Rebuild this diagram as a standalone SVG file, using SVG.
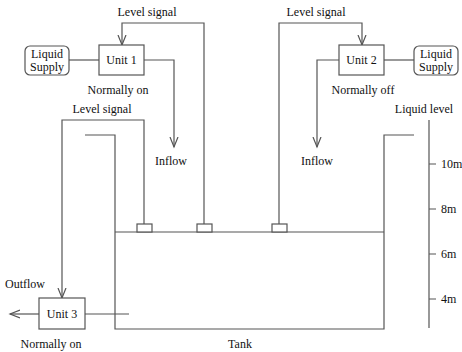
<svg xmlns="http://www.w3.org/2000/svg" width="462" height="352" viewBox="0 0 462 352">
<style>
.ln{fill:none;stroke:#555;stroke-width:1.2}
.bx{fill:#fff;stroke:#555;stroke-width:1.2}
text{font-family:"Liberation Serif","Times New Roman",serif;font-size:12px;fill:#111}
.c{text-anchor:middle}
</style>
<defs>
<marker id="ah" markerUnits="userSpaceOnUse" markerWidth="12" markerHeight="10" refX="10" refY="4.5" orient="auto">
<path d="M0,0.5 L10,4.5 L0,8.5" fill="none" stroke="#555" stroke-width="1.2"/>
</marker>
</defs>
<rect width="462" height="352" fill="#fff"/>
<g id="connectors">
<path class="ln" d="M204,224 V23 H122 V45" marker-end="url(#ah)"/>
<path class="ln" d="M144,60 H174 V147" marker-end="url(#ah)"/>
<path class="ln" d="M69,60 H99"/>
<path class="ln" d="M279,224 V23 H362 V45" marker-end="url(#ah)"/>
<path class="ln" d="M339,60 H317 V147" marker-end="url(#ah)"/>
<path class="ln" d="M384,60 H414"/>
<path class="ln" d="M144,224 V120 H62 V298" marker-end="url(#ah)"/>
<path class="ln" d="M39,314 H10" marker-end="url(#ah)"/>
<path class="ln" d="M85,314 H129"/>
</g>
<g id="tank">
<path class="ln" d="M85,135 H115 V329 H384 V135 H414"/>
<path class="ln" d="M115,232 H384"/>
<rect class="bx" x="137" y="224" width="15" height="8"/>
<rect class="bx" x="197" y="224" width="15" height="8"/>
<rect class="bx" x="272" y="224" width="15" height="8"/>
<text x="240" y="348" class="c">Tank</text>
</g>
<g id="supply1">
<rect class="bx" x="25" y="46" width="44" height="29" rx="5"/>
<text x="47" y="58" class="c">Liquid</text>
<text x="47" y="71" class="c">Supply</text>
</g>
<g id="unit1">
<rect class="bx" x="99" y="45" width="45" height="30"/>
<text x="121.5" y="64" class="c">Unit 1</text>
<text x="118" y="94" class="c">Normally on</text>
</g>
<g id="unit2">
<rect class="bx" x="339" y="45" width="45" height="30"/>
<text x="361.5" y="64" class="c">Unit 2</text>
<text x="363" y="94" class="c">Normally off</text>
</g>
<g id="supply2">
<rect class="bx" x="414" y="46" width="44" height="29" rx="5"/>
<text x="436" y="58" class="c">Liquid</text>
<text x="436" y="71" class="c">Supply</text>
</g>
<g id="unit3">
<rect class="bx" x="39" y="298" width="46" height="31"/>
<text x="62" y="318" class="c">Unit 3</text>
<text x="51" y="348" class="c">Normally on</text>
</g>
<g id="labels">
<text x="147" y="16" class="c">Level signal</text>
<text x="316" y="16" class="c">Level signal</text>
<text x="102" y="113" class="c">Level signal</text>
<text x="171" y="165" class="c">Inflow</text>
<text x="317" y="165" class="c">Inflow</text>
<text x="25" y="288" class="c">Outflow</text>
</g>
<g id="scale">
<path class="ln" d="M429,120 V328 M429,164 H436 M429,209 H436 M429,254 H436 M429,299 H436"/>
<text x="424" y="113" class="c">Liquid level</text>
<text x="441" y="168">10m</text>
<text x="441" y="213">8m</text>
<text x="441" y="258">6m</text>
<text x="441" y="303">4m</text>
</g>
</svg>
